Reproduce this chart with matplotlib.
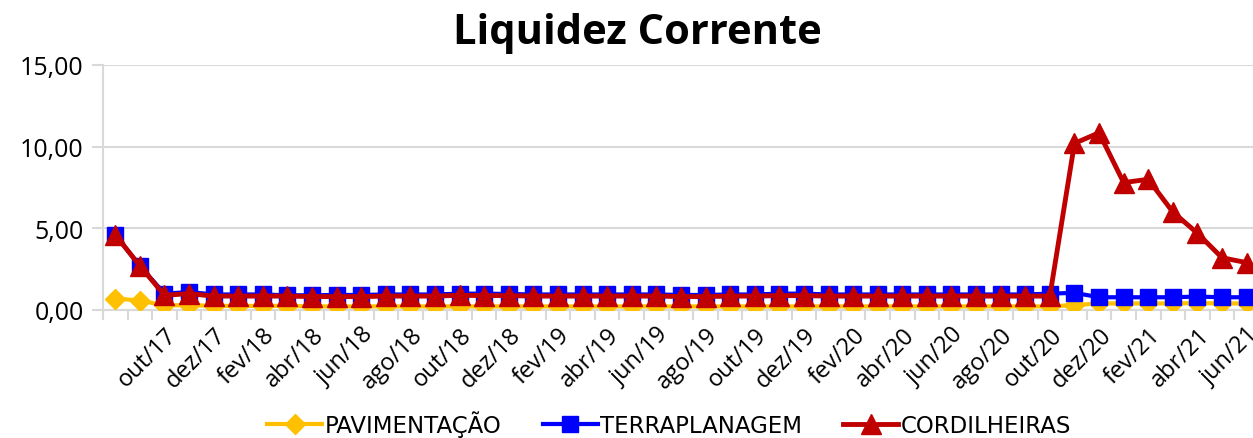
import numpy as np
import matplotlib
matplotlib.use("Agg")
import matplotlib.pyplot as plt
from matplotlib.ticker import FixedLocator

# meses ago/17 .. jun/21
meses = ["ago/17", "set/17", "out/17", "nov/17", "dez/17",
         "jan/18", "fev/18", "mar/18", "abr/18", "mai/18", "jun/18", "jul/18",
         "ago/18", "set/18", "out/18", "nov/18", "dez/18",
         "jan/19", "fev/19", "mar/19", "abr/19", "mai/19", "jun/19", "jul/19",
         "ago/19", "set/19", "out/19", "nov/19", "dez/19",
         "jan/20", "fev/20", "mar/20", "abr/20", "mai/20", "jun/20", "jul/20",
         "ago/20", "set/20", "out/20", "nov/20", "dez/20",
         "jan/21", "fev/21", "mar/21", "abr/21", "mai/21", "jun/21"]

pavimentacao = [0.70, 0.58, 0.28, 0.30, 0.25, 0.25, 0.25, 0.25, 0.22, 0.22,
                0.22, 0.22, 0.22, 0.22, 0.22, 0.22, 0.22, 0.22, 0.22, 0.22,
                0.22, 0.22, 0.22, 0.22, 0.22, 0.22, 0.22, 0.22, 0.22, 0.22,
                0.22, 0.22, 0.22, 0.22, 0.22, 0.22, 0.22, 0.22, 0.22, 0.30,
                0.40, 0.40, 0.40, 0.40, 0.42, 0.40, 0.40]

terraplanagem = [4.60, 2.70, 1.00, 1.10, 0.95, 0.95, 0.95, 0.90, 0.90, 0.92,
                 0.92, 0.95, 0.95, 0.95, 1.00, 1.00, 0.98, 0.95, 0.95, 0.95,
                 0.95, 0.95, 0.95, 0.92, 0.92, 0.95, 0.95, 1.00, 1.00, 0.95,
                 0.95, 0.95, 0.95, 0.95, 0.95, 0.95, 0.95, 0.95, 1.00, 1.05,
                 0.78, 0.78, 0.78, 0.78, 0.82, 0.78, 0.78]

cordilheiras = [4.60, 2.70, 0.90, 1.00, 0.85, 0.85, 0.85, 0.85, 0.82, 0.82,
                0.82, 0.85, 0.85, 0.85, 0.90, 0.88, 0.88, 0.85, 0.85, 0.85,
                0.85, 0.85, 0.85, 0.82, 0.82, 0.85, 0.85, 0.88, 0.88, 0.85,
                0.85, 0.85, 0.85, 0.85, 0.85, 0.85, 0.85, 0.85, 0.85, 10.20,
                10.85, 7.80, 8.00, 6.00, 4.70, 3.20, 2.90]

x = np.arange(len(meses))

fig = plt.figure(figsize=(12.53, 4.39), dpi=100)
ax = fig.add_axes([0.0822, 0.2916, 0.9178, 0.5581])

ax.plot(x, pavimentacao, color="#FFC000", lw=3, marker="D", ms=10,
        label="PAVIMENTAÇÃO", zorder=3)
ax.plot(x, terraplanagem, color="#0000FF", lw=3, marker="s", ms=11.5,
        label="TERRAPLANAGEM", zorder=4)
ax.plot(x, cordilheiras, color="#C00000", lw=3.5, marker="^", ms=14,
        label="CORDILHEIRAS", zorder=5)

ax.set_xlim(-0.5, 46.26)
ax.set_ylim(0, 15)
ax.set_yticks([0, 5, 10, 15])
ax.set_yticklabels(["0,00", "5,00", "10,00", "15,00"], fontsize=18,
                   family="Open Sans")
ax.yaxis.grid(True, color="#D9D9D9", lw=1.5)
ax.set_axisbelow(True)

# rótulos a cada 2 meses, começando em out/17
ax.set_xticks(x[2::2])
ax.set_xticklabels(meses[2::2], rotation=45, ha="right", va="top",
                   rotation_mode="anchor", fontsize=17, family="Open Sans")
ax.tick_params(axis="x", which="major", length=0, pad=9)
ax.xaxis.set_minor_locator(FixedLocator(np.arange(-0.5, 47, 1)))
ax.tick_params(axis="x", which="minor", length=7, width=1.5, color="#D9D9D9")
ax.tick_params(axis="y", length=8, width=1.5, color="#D9D9D9", pad=6)

for s in ["top", "right"]:
    ax.spines[s].set_visible(False)
for s in ["left", "bottom"]:
    ax.spines[s].set_color("#D9D9D9")
    ax.spines[s].set_linewidth(1.5)

fig.suptitle("Liquidez Corrente", x=0.509, y=0.97, fontsize=30,
             fontweight="bold", family="Open Sans")

fig.legend(loc="lower center", bbox_to_anchor=(0.534, -0.045), ncol=3,
           frameon=False, handlelength=2.4, columnspacing=1.8,
           handletextpad=0.1,
           prop={"family": "DejaVu Sans", "size": 16.5})

fig.savefig("out.png", dpi=100)
